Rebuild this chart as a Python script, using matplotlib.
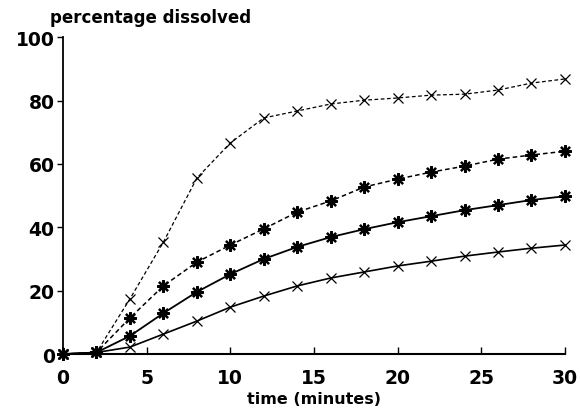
import matplotlib
matplotlib.use('Agg')
import matplotlib.pyplot as plt

# 시간 (분)
time = [0, 2, 4, 6, 8, 10, 12, 14, 16, 18, 20, 22, 24, 26, 28, 30]

# 용출 곡선 4개
s1 = [0, 0.5, 17.4, 35.3, 55.5, 66.6, 74.5, 76.7, 78.9, 80.1, 80.8, 81.7, 82.0, 83.3, 85.5, 86.8]
s2 = [0, 0.5, 11.4, 21.5, 29.0, 34.4, 39.5, 44.8, 48.3, 52.7, 55.2, 57.4, 59.3, 61.5, 62.8, 64.0]
s3 = [0, 0.5, 5.7, 12.9, 19.6, 25.2, 30.0, 33.8, 36.9, 39.4, 41.6, 43.5, 45.4, 47.0, 48.6, 49.8]
s4 = [0, 0.5, 2.2, 6.3, 10.4, 14.8, 18.3, 21.5, 24.0, 25.9, 27.8, 29.3, 30.9, 32.2, 33.4, 34.4]

xticks = [0, 5, 10, 15, 20, 25, 30]
yticks = [0, 20, 40, 60, 80, 100]

plt.rcParams['font.family'] = ['DejaVu Sans']
plt.rcParams['font.weight'] = 'bold'

fig = plt.figure(figsize=(5.8, 4.1), dpi=100)
ax = fig.add_axes([0.1086, 0.134, 0.8654, 0.773])

star = (8, 2, 0)
ax.plot(time, s1, color='black', lw=0.9, ls=(0, (3, 2)), marker='x', ms=6.5, mew=0.9, clip_on=False)
ax.plot(time, s2, color='black', lw=1.1, ls=(0, (3, 2)), marker=star, ms=9, mew=1.6, clip_on=False)
ax.plot(time, s3, color='black', lw=1.3, marker=star, ms=9, mew=1.6, clip_on=False)
ax.plot(time, s4, color='black', lw=1.2, marker='x', ms=6.5, mew=0.9, clip_on=False)

ax.set_xlim(0, 30)
ax.set_ylim(0, 100)
ax.set_xticks(xticks)
ax.set_yticks(yticks)
ax.spines['top'].set_visible(False)
ax.spines['right'].set_visible(False)
ax.spines['left'].set_linewidth(1.3)
ax.spines['bottom'].set_linewidth(1.5)
ax.tick_params(axis='x', direction='in', length=5, width=1, labelsize=13.5, pad=10)
ax.tick_params(axis='y', direction='out', length=4, width=1, labelsize=13.5, pad=2)

fig.text(0.086, 0.944, 'percentage dissolved', fontsize=12, fontweight='bold', ha='left', va='baseline')
ax.set_xlabel('time (minutes)', fontsize=11.5, fontweight='bold', labelpad=3)

fig.savefig('out.png', dpi=100)
